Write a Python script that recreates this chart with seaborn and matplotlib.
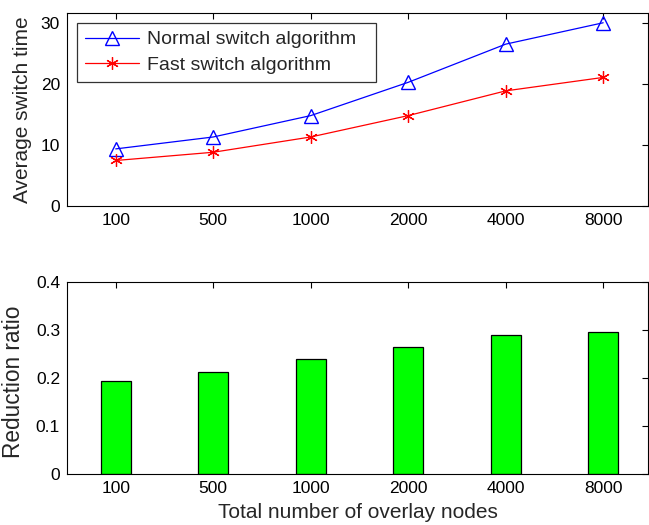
import numpy as np
import pandas as pd
import matplotlib
matplotlib.use("Agg")
import matplotlib.pyplot as plt
import seaborn as sns

nodes = ["100", "500", "1000", "2000", "4000", "8000"]
normal_time = [9.35, 11.3, 14.8, 20.25, 26.5, 30.0]
fast_time = [7.45, 8.8, 11.3, 14.8, 18.85, 21.05]
reduction = [0.193, 0.212, 0.240, 0.265, 0.290, 0.296]

sns.set_theme(style="white")
plt.rcParams["font.family"] = ["Liberation Sans", "DejaVu Sans"]
plt.rcParams["axes.edgecolor"] = "black"
plt.rcParams["axes.linewidth"] = 0.8

W, H = 649, 525
fig = plt.figure(figsize=(W / 100, H / 100), dpi=100)

def box(l, r, t, b):
    return [l / W, 1 - b / H, (r - l) / W, (b - t) / H]

ax1 = fig.add_axes(box(67, 648, 13, 206))
ax2 = fig.add_axes(box(67, 648, 282, 474))

pos = np.arange(len(nodes))
df = pd.DataFrame({"pos": pos, "normal": normal_time, "fast": fast_time, "red": reduction})

sns.lineplot(data=df, x="pos", y="normal", ax=ax1, color="blue", lw=0.9,
             marker="^", markersize=10, markerfacecolor="none",
             markeredgecolor="blue", markeredgewidth=1.0,
             label="Normal switch algorithm")
sns.lineplot(data=df, x="pos", y="fast", ax=ax1, color="red", lw=0.9,
             marker=(6, 2, 0), markersize=9, markeredgecolor="red",
             markeredgewidth=0.9, label="Fast switch algorithm")

ax1.set_xlim(-0.5, 5.46)
ax1.set_ylim(0, 31.6)
ax1.set_xticks(pos)
ax1.set_xticklabels(nodes)
ax1.set_yticks([0, 10, 20, 30])
ax1.set_yticklabels(["0", "10", "20", "30"])
ax1.set_xlabel("")
ax1.set_ylabel("Average switch time", fontsize=15)
ax1.yaxis.set_label_coords(-0.060, 0.5)

leg = ax1.legend(loc="upper left", bbox_to_anchor=(0.0172, 0.642, 0.515, 0.306),
                 mode="expand", fontsize=14,
                 frameon=True, fancybox=False, edgecolor="black",
                 handlelength=2.8, borderpad=0.4, labelspacing=0.42,
                 handletextpad=0.4, borderaxespad=0)
leg.get_frame().set_linewidth(0.9)

sns.barplot(data=df, x="pos", y="red", ax=ax2, color="#00ff00", saturation=1,
            width=0.305, edgecolor="black", linewidth=0.9, native_scale=True)
ax2.set_xlim(-0.5, 5.46)
ax2.set_ylim(0, 0.4)
ax2.set_xticks(pos)
ax2.set_xticklabels(nodes)
ax2.set_yticks([0, 0.1, 0.2, 0.3, 0.4])
ax2.set_yticklabels(["0", "0.1", "0.2", "0.3", "0.4"])
ax2.set_xlabel("Total number of overlay nodes", fontsize=15, labelpad=5)
ax2.set_ylabel("Reduction ratio", fontsize=16.3)
ax2.yaxis.set_label_coords(-0.072, 0.48)

for ax in (ax1, ax2):
    ax.tick_params(direction="in", top=True, right=True, length=4, width=0.8,
                   labelsize=12.5, colors="black", pad=5)
    for s in ax.spines.values():
        s.set_visible(True)
        s.set_color("black")
        s.set_linewidth(0.8)

fig.savefig("out.png", dpi=100, facecolor="white")
